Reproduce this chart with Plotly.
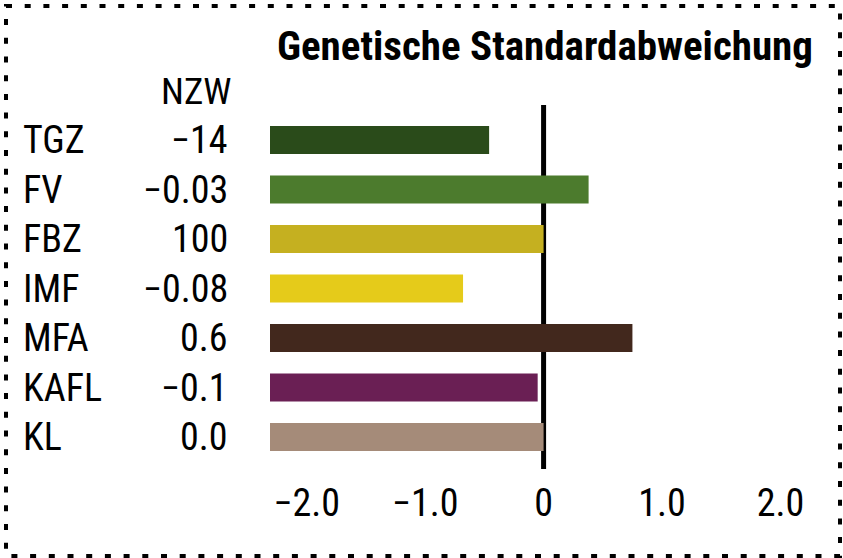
import plotly.graph_objects as go

# ---- data ----
categories = ["TGZ", "FV", "FBZ", "IMF", "MFA", "KAFL", "KL"]
nzw_labels = ["\u221214", "\u22120.03", "100", "\u22120.08", "0.6", "\u22120.1", "0.0"]
values = [-0.46, 0.38, 0.0, -0.68, 0.75, -0.05, 0.0]
colors = ["#2A4B1A", "#4C7B2D", "#C5B020", "#E5CB1A", "#42281D", "#6A1F54", "#A58B79"]
tick_vals = [-2, -1, 0, 1, 2]
tick_text = ["\u22122.0", "\u22121.0", "0", "1.0", "2.0"]
title_text = "Genetische Standardabweichung"
nzw_header = "NZW"

x_min, x_max = -2.31, 2.30

FONT = "Roboto Condensed, Roboto, sans-serif"

# layout geometry (pixels)
W, H = 843, 558
ML, MR, MT, MB = 270, 27, 105, 89
PW = W - ML - MR
PH = H - MT - MB


def px_x(px):
    return (px - ML) / PW


def px_y(py):
    return (H - MB - py) / PH


fig = go.Figure()
fig.add_trace(go.Bar(
    y=categories,
    x=[v - x_min for v in values],
    base=[x_min] * len(values),
    orientation="h",
    marker=dict(color=colors, line=dict(width=0)),
    width=0.566,
    hoverinfo="skip",
))

annotations = []
annotations.append(dict(
    text=title_text, xref="paper", yref="paper", x=px_x(275), y=px_y(46),
    xanchor="left", yanchor="middle", showarrow=False,
    font=dict(family=FONT, size=41, color="black", weight="bold"),
))
annotations.append(dict(
    text=nzw_header, xref="paper", yref="paper", x=px_x(233), y=px_y(92),
    xanchor="right", yanchor="middle", showarrow=False,
    font=dict(family=FONT, size=37, color="black"),
))
for cat, lab in zip(categories, nzw_labels):
    annotations.append(dict(
        text=cat, xref="paper", yref="y", x=px_x(21), y=cat,
        xanchor="left", yanchor="middle", showarrow=False,
        font=dict(family=FONT, size=38, color="black"),
    ))
    annotations.append(dict(
        text=lab, xref="paper", yref="y", x=px_x(230), y=cat,
        xanchor="right", yanchor="middle", showarrow=False,
        font=dict(family=FONT, size=38, color="black"),
    ))

shapes = [
    dict(type="line", xref="x", yref="y domain", x0=0, x1=0, y0=0, y1=1,
         line=dict(color="black", width=5), layer="below"),
    dict(type="rect", xref="paper", yref="paper",
         x0=px_x(6), x1=px_x(840), y0=px_y(6), y1=px_y(556),
         line=dict(color="black", width=4, dash="6px,12.7px"), layer="above"),
]

fig.update_layout(
    width=W, height=H,
    margin=dict(l=ML, r=MR, t=MT, b=MB, pad=0),
    paper_bgcolor="white", plot_bgcolor="white",
    showlegend=False,
    annotations=annotations,
    shapes=shapes,
    font=dict(family=FONT, size=38, color="black"),
    xaxis=dict(range=[x_min, x_max], tickvals=tick_vals, ticktext=tick_text,
               showgrid=False, zeroline=False, showline=False, ticks="",
               ticklabelstandoff=8, fixedrange=True,
               tickfont=dict(family=FONT, size=38, color="black")),
    yaxis=dict(type="category", categoryorder="array", categoryarray=categories,
               range=[6.646, -0.707], showticklabels=False, showgrid=False,
               zeroline=False, showline=False, ticks="", fixedrange=True),
)

fig.write_html("out.html", config={"displayModeBar": False},
               post_script="document.body.style.margin='0';")
